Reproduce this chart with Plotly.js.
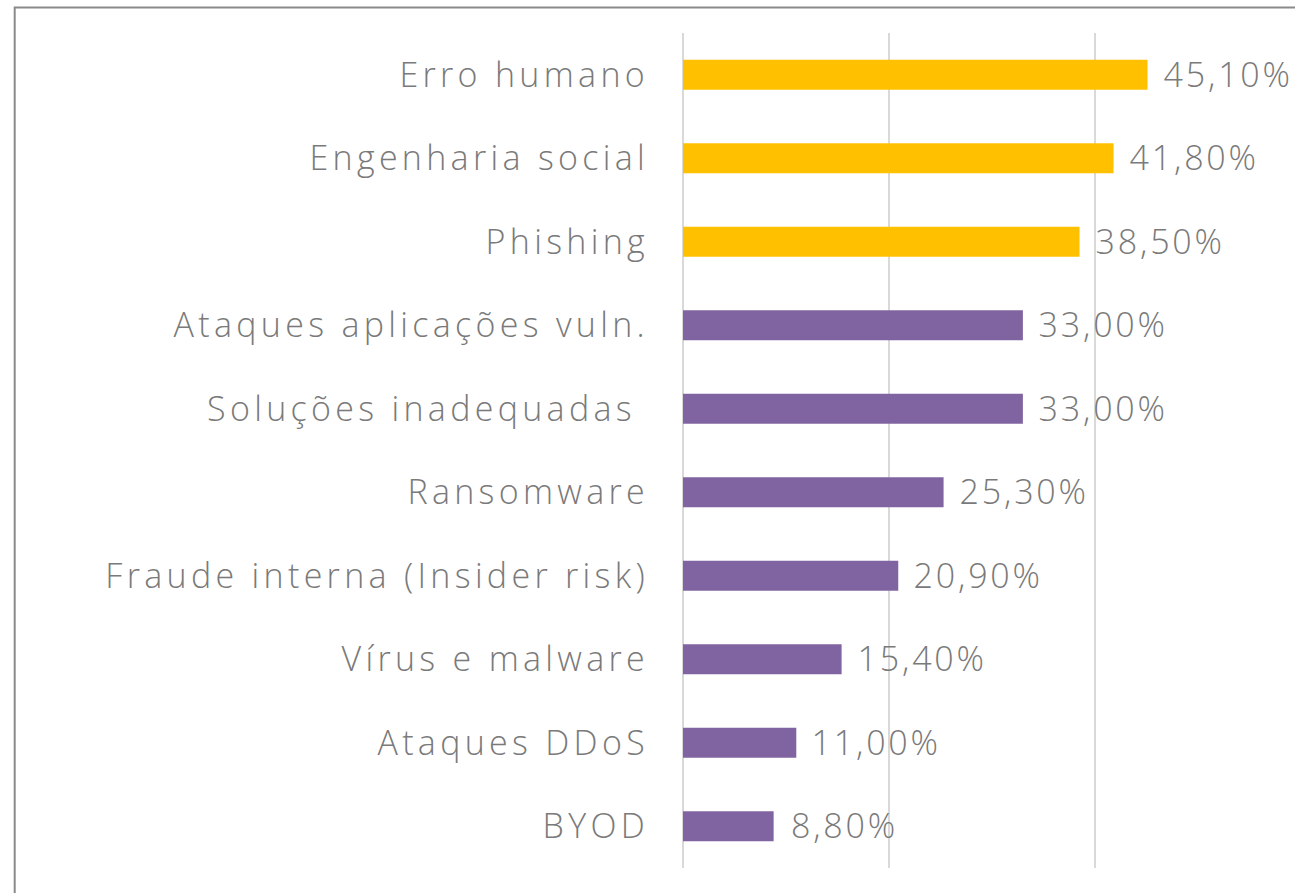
<!DOCTYPE html>
<html>
<head>
<meta charset="utf-8">
<script src="https://cdn.plot.ly/plotly-3.0.1.min.js"></script>
<style>
html, body { margin: 0; padding: 0; background: #fff; }
#chart { width: 1295px; height: 893px; }
#chart .ytick text { letter-spacing: 4.3px; }
#chart .annotation-text { letter-spacing: 2.8px; }
</style>
</head>
<body>
<div id="chart"></div>
<script>
const categories = [
  "Erro humano",
  "Engenharia social",
  "Phishing",
  "Ataques aplicações vuln.",
  "Soluções inadequadas\u00a0",
  "Ransomware",
  "Fraude interna (Insider risk)",
  "Vírus e malware",
  "Ataques DDoS",
  "BYOD"
];
const values = [45.1, 41.8, 38.5, 33.0, 33.0, 25.3, 20.9, 15.4, 11.0, 8.8];
const valueLabels = ["45,10%", "41,80%", "38,50%", "33,00%", "33,00%", "25,30%", "20,90%", "15,40%", "11,00%", "8,80%"];
const highlightCount = 3;

const GOLD = "#FFC000";
const PURPLE = "#8064A2";
const barColors = values.map((v, i) => i < highlightCount ? GOLD : PURPLE);

const textFont = { family: "Open Sans, sans-serif", size: 34, color: "#7a7a7a", weight: 300 };

const trace = {
  type: "bar",
  orientation: "h",
  x: values,
  y: categories,
  marker: { color: barColors },
  width: 0.36,
  hoverinfo: "skip"
};

const annotations = values.map((v, i) => ({
  x: v,
  y: categories[i],
  xref: "x",
  yref: "y",
  text: valueLabels[i],
  showarrow: false,
  xanchor: "left",
  yanchor: "middle",
  xshift: 22,
  yshift: 1,
  font: textFont
}));

const layout = {
  width: 1295,
  height: 893,
  margin: { l: 683, r: 0, t: 33, b: 25, pad: 0 },
  paper_bgcolor: "#ffffff",
  plot_bgcolor: "#ffffff",
  showlegend: false,
  xaxis: {
    range: [0, 59.42],
    dtick: 20,
    tick0: 0,
    showgrid: true,
    gridcolor: "#d9d9d9",
    gridwidth: 2,
    zeroline: true,
    zerolinecolor: "#d9d9d9",
    zerolinewidth: 2,
    showticklabels: false,
    ticks: "",
    fixedrange: true
  },
  yaxis: {
    type: "category",
    autorange: "reversed",
    showgrid: false,
    zeroline: false,
    ticks: "",
    ticklabelstandoff: 33,
    tickfont: textFont,
    fixedrange: true
  },
  annotations: annotations,
  shapes: [{
    type: "rect",
    xref: "paper",
    yref: "paper",
    x0: -1.092,
    x1: 1.2,
    y0: -0.2,
    y1: 1.0305,
    line: { color: "#8a8a8a", width: 2 },
    fillcolor: "rgba(0,0,0,0)",
    layer: "below"
  }]
};

Plotly.newPlot("chart", [trace], layout, { displayModeBar: false, staticPlot: true });
</script>
</body>
</html>
